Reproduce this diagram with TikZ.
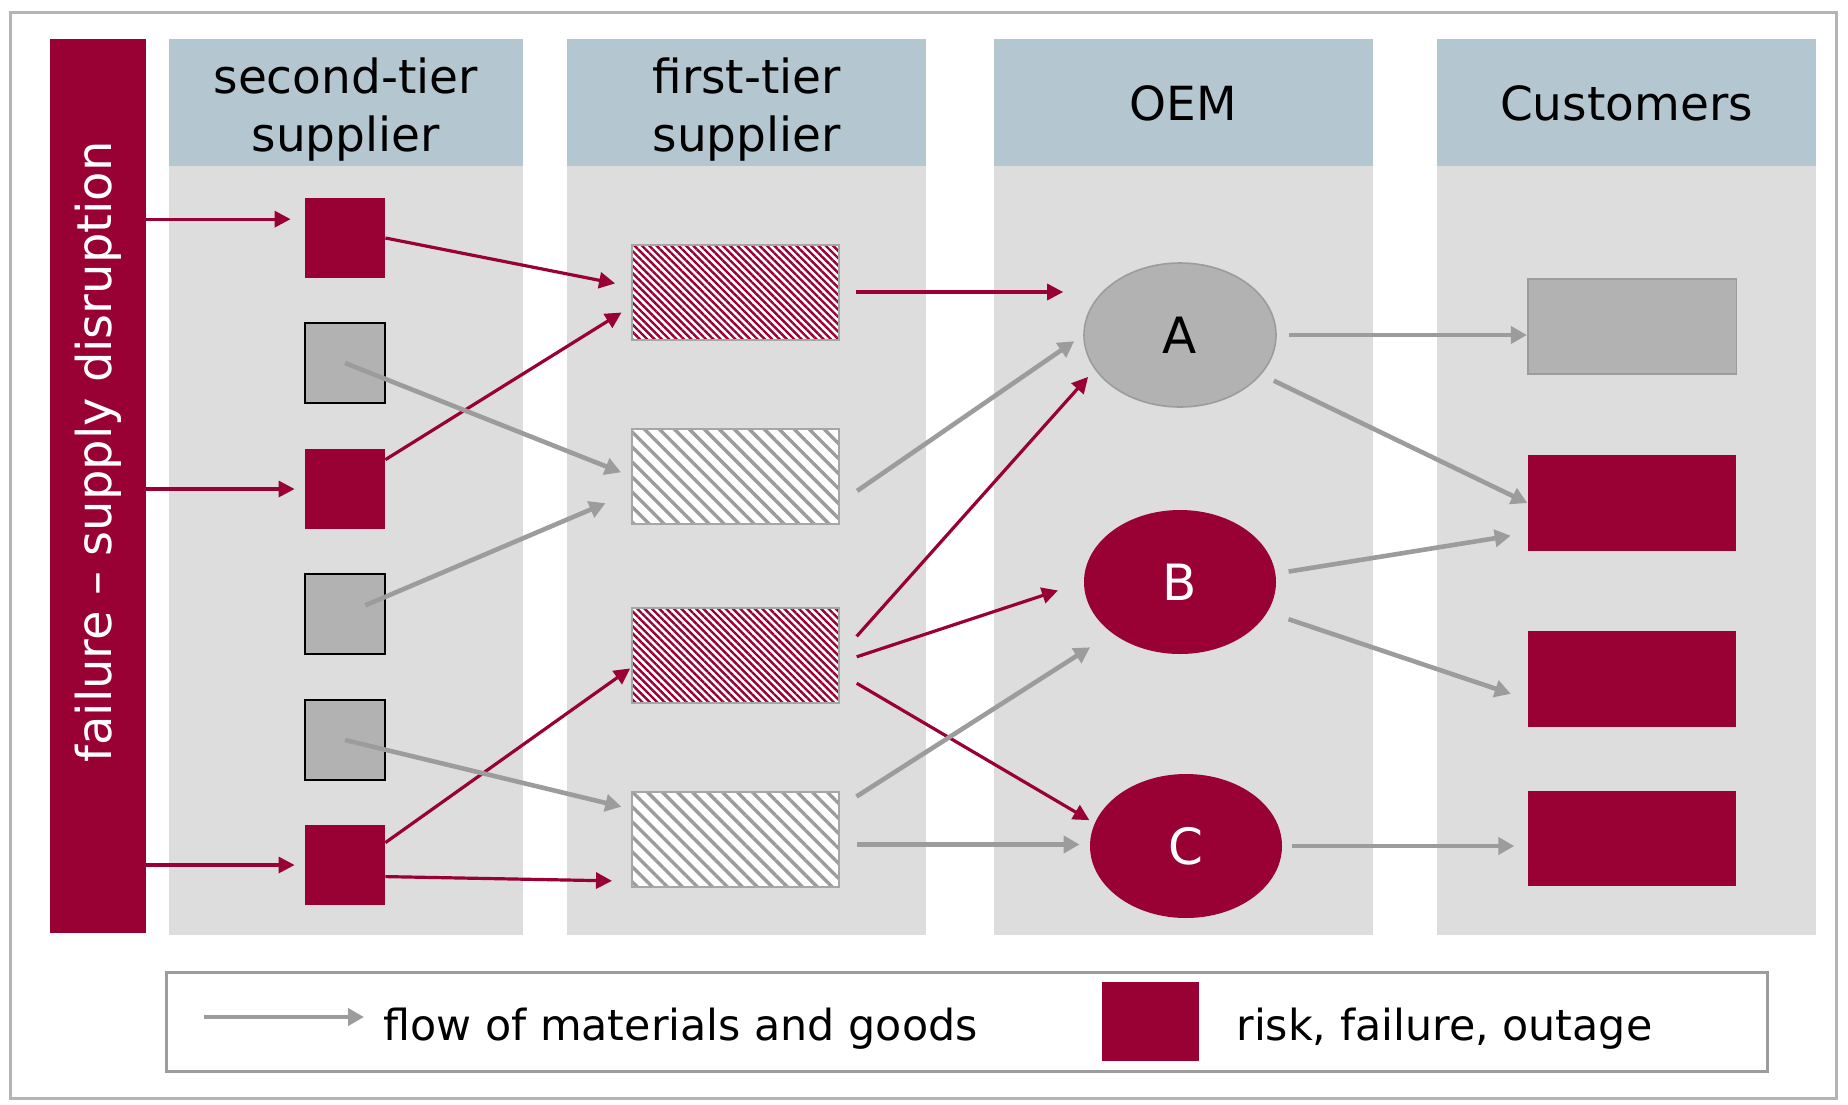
\documentclass[tikz,border=0pt]{standalone}
\usepackage{fontspec}
\setmainfont{DejaVu Sans}
\usetikzlibrary{arrows.meta,shapes.geometric,patterns.meta}

\definecolor{riskred}{HTML}{990033}
\definecolor{headblue}{HTML}{B4C6D0}
\definecolor{colgray}{HTML}{DDDDDD}
\definecolor{boxgray}{HTML}{B2B2B2}
\definecolor{flowgray}{HTML}{9C9C9C}
\definecolor{framegray}{HTML}{B4B4B4}

\newcommand{\hdrfont}{\fontsize{23.5}{29}\selectfont}
\newcommand{\oemfont}{\fontsize{25}{30}\selectfont}
\newcommand{\legfont}{\fontsize{21.4}{26}\selectfont}
\newcommand{\barfont}{\fontsize{24}{29}\selectfont}

\tikzset{
  riskarrow/.style={draw=riskred, line width=1.6pt, -{Triangle[length=8pt,width=8pt]}},
  flow/.style={draw=flowgray, line width=2.3pt, -{Triangle[length=8pt,width=8.5pt]}},
  head/.style={inner sep=0pt, align=center, font=\hdrfont},
  riskbox/.style={fill=riskred, minimum size=40pt, inner sep=0pt},
  okbox/.style={fill=boxgray, draw=black, line width=0.8pt, minimum size=40pt, inner sep=0pt},
  part/.style={draw=flowgray!90, line width=1pt, preaction={fill=white},
    minimum width=103.5pt, minimum height=47.5pt, inner sep=0pt},
  riskpart/.style={part, pattern={Lines[angle=-45,distance=2.6pt,line width=1.2pt]}, pattern color=riskred},
  okpart/.style={part, pattern={Lines[angle=-45,distance=5.3pt,line width=1.7pt]}, pattern color=flowgray},
  oem/.style={ellipse, minimum width=96pt, minimum height=72pt, inner sep=0pt, font=\oemfont},
  custbox/.style={minimum width=104.3pt, minimum height=47.7pt, inner sep=0pt},
}

\begin{document}
\begin{tikzpicture}[x=0.5pt,y=-0.5pt]
  \useasboundingbox (0,0) rectangle (1848,1104);
  \draw[framegray, line width=1.5pt] (10,12) rectangle (1836,1098);

  % columns
  \foreach \xa/\xb in {168.5/523, 567/926, 993.5/1373, 1437/1816} {
    \fill[headblue] (\xa,39) rectangle (\xb,166);
    \fill[colgray] (\xa,166) rectangle (\xb,935);
  }
  \node[head] (h1) at (345.75,109.5) {second-tier\\supplier};
  \node[head] (h2) at (746.7,109.5) {first-tier\\supplier};
  \node[head] (h3) at (1183.25,103.5) {OEM};
  \node[head] (h4) at (1626.5,103.5) {Customers};

  % disruption bar
  \node[fill=riskred, minimum width=48.25pt, minimum height=447pt, inner sep=0pt] (bar) at (97.75,486) {};
  \node[rotate=90, text=white, font=\barfont] (bartext) at (98,452) {failure -- supply disruption};

  % second-tier suppliers
  \node[riskbox] (s1) at (345,238) {};
  \node[okbox]   (s2) at (345,363) {};
  \node[riskbox] (s3) at (345,489) {};
  \node[okbox]   (s4) at (345,614) {};
  \node[okbox]   (s5) at (345,740) {};
  \node[riskbox] (s6) at (345,865) {};

  % first-tier suppliers
  \node[riskpart] (f1) at (735.5,292) {};
  \node[okpart]   (f2) at (735.5,476) {};
  \node[riskpart] (f3) at (735.5,655) {};
  \node[okpart]   (f4) at (735.5,839) {};

  % OEM
  \node[oem, fill=boxgray, draw=flowgray, line width=0.8pt] (A) at (1180,335) {A};
  \node[oem, fill=riskred, text=white] (B) at (1180,582) {B};
  \node[oem, fill=riskred, text=white] (C) at (1186,846) {C};

  % customers
  \node[custbox, fill=boxgray, draw=flowgray, line width=0.8pt] (k1) at (1632,326.5) {};
  \node[custbox, fill=riskred] (k2) at (1632,503) {};
  \node[custbox, fill=riskred] (k3) at (1632,679) {};
  \node[custbox, fill=riskred] (k4) at (1632,838.5) {};

  % disruptions
  \draw[riskarrow, shorten >=7pt] (bar.east |- s1.155) -- (s1.155);
  \draw[riskarrow, shorten >=5pt] (bar.east |- s3.west) -- (s3.west);
  \draw[riskarrow, shorten >=5pt] (bar.east |- s6.west) -- (s6.west);

  % risky deliveries
  \draw[riskarrow, shorten >=8pt] (s1.east) -- (f1.177);
  \draw[riskarrow, shorten >=5.5pt] (s3.36) -- (f1.188);
  \draw[riskarrow, shorten >=0.5pt] (s6.29) -- (f3.187);
  \draw[riskarrow, shorten >=9.5pt] (s6.-16) -- (f4.202);
  \draw[riskarrow, shorten <=8pt, shorten >=10pt] (f1.east) -- (f1.east -| A.west);
  \draw[riskarrow, shorten <=12.5pt, shorten >=5pt] (f3.east) -- (A.202);
  \draw[riskarrow, shorten <=8.8pt, shorten >=13.5pt] (f3.-4) -- (B.west);
  \draw[riskarrow, shorten <=9.7pt, shorten >=3pt] (f3.-10) -- (C.166);

  % normal deliveries
  \draw[flow, shorten >=5pt] (s2.center) -- (f2.west);
  \draw[flow, shorten <=11pt, shorten >=13.5pt] (s4.center) -- (f2.189);
  \draw[flow, shorten >=5pt] (s5.center) -- (f4.164);
  \draw[flow, shorten <=10pt, shorten >=5.5pt] (f2.-14) -- (A.west);
  \draw[flow, shorten <=9.8pt, shorten >=13pt] (f4.17) -- (B.217);
  \draw[flow, shorten <=8.5pt, shorten >=5pt] (f4.-3) -- (f4.-3 -| C.west);

  % OEM -> customers
  \draw[flow, shorten <=6pt] (A.east) -- (A.east -| k1.west);
  \draw[flow, shorten <=7pt] (A.-26) -- (k2.west);
  \draw[flow, shorten <=6.5pt, shorten >=8.4pt] (B.5) -- (k2.196);
  \draw[flow, shorten <=11pt, shorten >=8.7pt] (B.-19) -- (k3.191);
  \draw[flow, shorten <=5pt, shorten >=6.5pt] (C.east) -- (C.east -| k4.west);

  % legend
  \draw[flowgray, line width=1.5pt, fill=white] (166,972) rectangle (1767,1071);
  \coordinate (l1) at (204,1017);
  \coordinate (l2) at (364,1017);
  \draw[flow] (l1) -- (l2);
  \node[anchor=base west, inner sep=0pt, font=\legfont] (legflow) at (383,1040) {flow of materials and goods};
  \node[riskbox, minimum width=48.5pt, minimum height=39.5pt] (legrisk) at (1150.5,1021.5) {};
  \node[anchor=base west, inner sep=0pt, font=\legfont] (legrisktext) at (1236,1040) {risk, failure, outage};
\end{tikzpicture}
\end{document}
